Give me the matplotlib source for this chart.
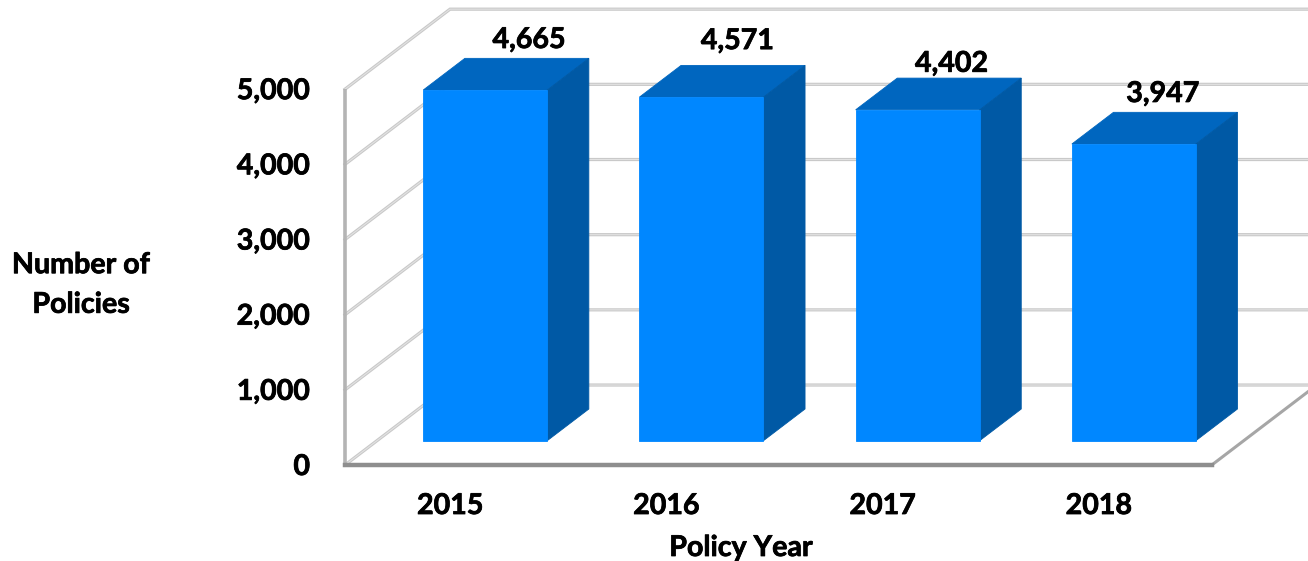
import matplotlib
matplotlib.use('Agg')
import matplotlib.pyplot as plt
import matplotlib.patheffects as pe
from matplotlib.patches import Polygon

years = ['2015', '2016', '2017', '2018']
policies = [4665, 4571, 4402, 3947]
y_ticks = [0, 1000, 2000, 3000, 4000, 5000]

# fake 3d: depth runs 0 (front of floor) to 1 (back wall)
DEPTH_X = 0.4857
DEPTH_Y = 1064
BAR_FRONT = 0.304
BAR_BACK = 0.70
BAR_WIDTH = 0.5735
X_LEFT = -0.5009
X_RIGHT = 3.508

# label nudges in pixels, the original labels were not placed evenly
label_nudge = [(44, 50), (36, 56), (34, 46), (29, 50)]

plt.rcParams['font.family'] = ['Lato', 'DejaVu Sans']
plt.rcParams['font.weight'] = 'bold'
FONT = 20.6
# lato bold is a bit thinner than the original font
HEAVY = [pe.withStroke(linewidth=0.55, foreground='black')]


def project(x, v, depth):
    return x + depth * DEPTH_X, v + depth * DEPTH_Y


def face(ax, pts, color, z):
    ax.add_patch(Polygon(pts, closed=True, facecolor=color, edgecolor=color, linewidth=0.6, zorder=z))


fig = plt.figure(figsize=(13.08, 5.61), dpi=100)
ax = fig.add_axes([0, 0, 1, 1])
ax.set_xlim(-2.0967, 3.953)
ax.set_ylim(-1277, 6186)
ax.axis('off')

# walls
for v in y_ticks:
    x0, y0 = project(X_LEFT, v, 0)
    x1, y1 = project(X_LEFT, v, 1)
    x2, y2 = project(X_RIGHT, v, 1)
    ax.plot([x0, x1, x2], [y0, y1, y2], color='#c8c8c8', lw=2.3, zorder=1, solid_joinstyle='miter')
    ax.plot([x0, x1, x2], [y0, y1, y2], color='#e2e2e2', lw=0.8, zorder=1, solid_joinstyle='miter')

# axis lines
x0, y0 = project(X_LEFT, 0, 0)
ax.plot([x0, x0], [0, 5000], color='#b4b4b4', lw=2.6, zorder=2, solid_capstyle='butt')
xr, yr = project(X_RIGHT, 0, 1)
ax.plot([X_RIGHT, xr], [0, yr], color='#a6a6a6', lw=2.2, zorder=2)
ax.plot([X_LEFT, X_RIGHT], [0, 0], color='#8e8e8e', lw=3.2, zorder=2, solid_capstyle='projecting')

# bars
for i, val in enumerate(policies):
    xa = i - BAR_WIDTH / 2
    xb = i + BAR_WIDTH / 2
    f00 = project(xa, 0, BAR_FRONT)
    f10 = project(xb, 0, BAR_FRONT)
    f11 = project(xb, val, BAR_FRONT)
    f01 = project(xa, val, BAR_FRONT)
    b10 = project(xb, 0, BAR_BACK)
    b11 = project(xb, val, BAR_BACK)
    b01 = project(xa, val, BAR_BACK)
    face(ax, [f01, f11, b11, b01], '#0066bf', 3)
    face(ax, [f10, b10, b11, f11], '#0059a5', 3)
    face(ax, [f00, f10, f11, f01], '#0087ff', 4)

    cx, cy = project(i, val, BAR_FRONT)
    nx, ny = label_nudge[i]
    ax.annotate(f'{val:,}', xy=(cx, cy), xytext=(nx * 0.72, ny * 0.72), textcoords='offset points',
                ha='center', va='center', fontsize=FONT, color='black', zorder=5, path_effects=HEAVY)

# tick labels
for v in y_ticks:
    ax.annotate(f'{v:,}', xy=(X_LEFT, v), xytext=(-35 * 0.72, -2 * 0.72), textcoords='offset points',
                ha='right', va='center', fontsize=FONT, color='black', path_effects=HEAVY)
for i, y in enumerate(years):
    ax.annotate(y, xy=(i, 0), xytext=(-3 * 0.72, -41 * 0.72), textcoords='offset points',
                ha='center', va='center', fontsize=FONT, color='black', path_effects=HEAVY)

fig.text(741 / 1308, 1 - 548 / 561, 'Policy Year', ha='center', va='center', fontsize=FONT, path_effects=HEAVY)
fig.text(81 / 1308, 1 - 285 / 561, 'Number of\nPolicies', ha='center', va='center', fontsize=FONT,
         linespacing=1.65, path_effects=HEAVY)

fig.savefig('out.png', dpi=100)
